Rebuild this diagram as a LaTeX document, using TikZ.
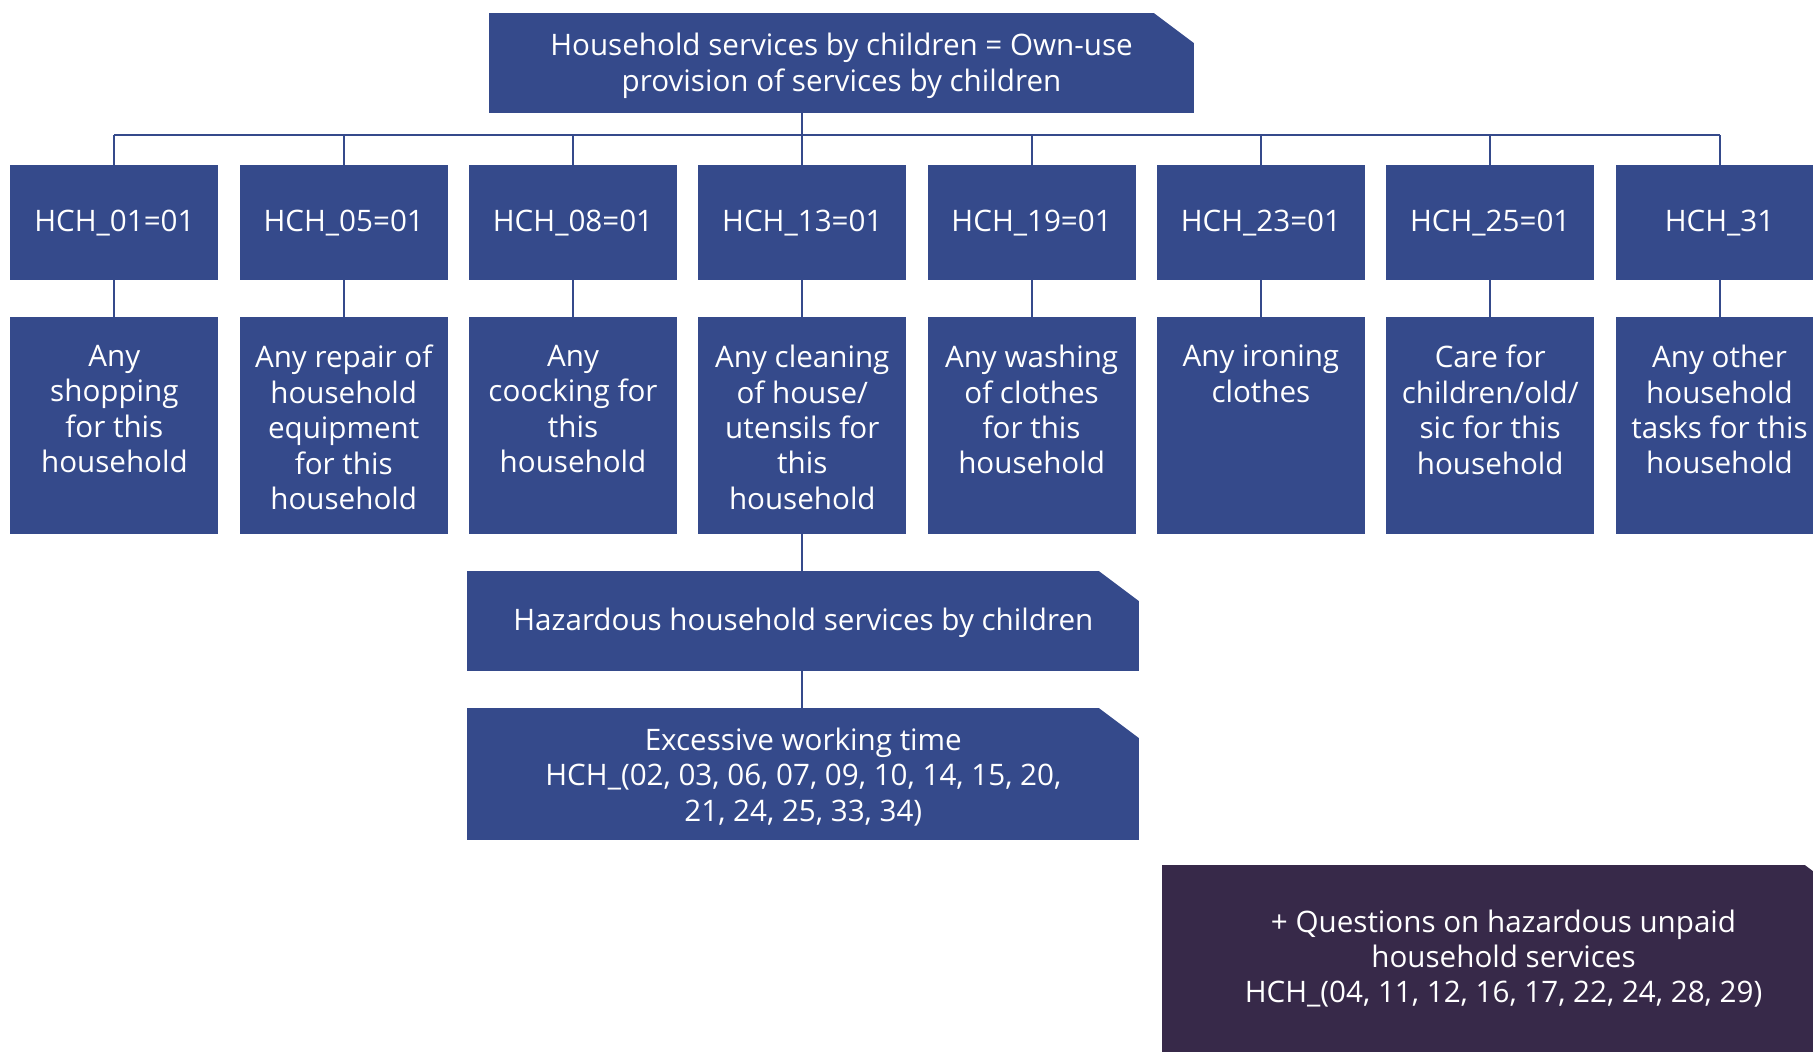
\documentclass[tikz,border=0pt]{standalone}
\usepackage{fontspec}
\setmainfont{Open Sans}
\usepackage{xcolor}
\usepackage{tikz}
\usetikzlibrary{positioning}
\definecolor{cBlue}{RGB}{53,74,139}
\definecolor{cDark}{RGB}{55,41,73}
\tikzset{
  box/.style={fill=cBlue, text=white, inner sep=0pt, outer sep=0pt, align=center,
              font=\fontsize{14.8pt}{17.7pt}\selectfont},
  cutcorner/.style={path picture={\fill[white]
      ([xshift=-22pt,yshift=1.5pt]path picture bounding box.north east)
      -- ([xshift=2pt,yshift=1.5pt]path picture bounding box.north east)
      -- ([xshift=2pt,yshift=-16.5pt]path picture bounding box.north east) -- cycle;}},
  head/.style={box, cutcorner, minimum width=352.5pt, minimum height=50pt},
  code/.style={box, minimum width=104pt, minimum height=57.2pt},
  task/.style={box, minimum width=104pt, minimum height=108.7pt},
  extra/.style={box, cutcorner, fill=cDark, minimum width=341.5pt, minimum height=93.5pt},
  link/.style={draw=cBlue, line width=1pt},
}
\newcommand{\tasktext}[1]{\parbox[t][108.7pt][t]{103pt}{\centering\vspace*{14.2pt}#1}}
\newcommand{\lowered}[2]{\raisebox{-#1}[\height][\depth]{\begin{tabular}{@{}c@{}}#2\end{tabular}}}

\begin{document}
\begin{tikzpicture}[node distance=18.5pt and 10.65pt]
  \path[use as bounding box, clip] (0,0) rectangle (906.5pt,-525.5pt);

  \node[head] (top) at (420.75pt,-31.5pt) {\lowered{1.7pt}{Household services by children = Own-use\\provision of services by children}};
  \coordinate (bus) at (0,-67.65pt);

  \node[code] (c01) at (57.2pt,-111.3pt) {HCH\_01=01};
  \node[code, right=of c01] (c05) {HCH\_05=01};
  \node[code, right=of c05] (c08) {HCH\_08=01};
  \node[code, right=of c08] (c13) {HCH\_13=01};
  \node[code, right=of c13] (c19) {HCH\_19=01};
  \node[code, right=of c19] (c23) {HCH\_23=01};
  \node[code, right=of c23] (c25) {HCH\_25=01};
  \node[code, right=of c25] (c31) {HCH\_31};

  \node[task, below=of c01] (t01) {\tasktext{Any\\shopping\\for this\\household}};
  \node[task, below=of c05] (t05) {\tasktext{Any repair of\\household\\equipment\\for this\\household}};
  \node[task, below=of c08] (t08) {\tasktext{Any\\coocking for\\this\\household}};
  \node[task, below=of c13] (t13) {\tasktext{Any cleaning\\of house/\\utensils for\\this\\household}};
  \node[task, below=of c19] (t19) {\tasktext{Any washing\\of clothes\\for this\\household}};
  \node[task, below=of c23] (t23) {\tasktext{Any ironing\\clothes}};
  \node[task, below=of c25] (t25) {\tasktext{Care for\\children/old/\\sic for this\\household}};
  \node[task, below=of c31] (t31) {\tasktext{Any other\\household\\tasks for this\\household}};

  \node[head, minimum width=336pt, below=of t13, xshift=0.5pt] (haz) {\lowered{1.2pt}{Hazardous household services by children}};
  \node[head, minimum width=336pt, minimum height=65.9pt, below=of haz] (exc) {\lowered{2.2pt}{Excessive working time\\HCH\_(02, 03, 06, 07, 09, 10, 14, 15, 20,\\21, 24, 25, 33, 34)}};

  \node[extra] (qst) at (751.75pt,-479.25pt) {+ Questions on hazardous unpaid\\household services\\HCH\_(04, 11, 12, 16, 17, 22, 24, 28, 29)};

  % tree lines
  \draw[link] (top.south -| c13) -- (c13 |- bus);
  \draw[link] (c01.north |- bus) -- (c31.north |- bus);
  \draw[link] (c01 |- bus) -- (c01); \draw[link] (c05 |- bus) -- (c05); \draw[link] (c08 |- bus) -- (c08); \draw[link] (c13 |- bus) -- (c13);
  \draw[link] (c19 |- bus) -- (c19); \draw[link] (c23 |- bus) -- (c23); \draw[link] (c25 |- bus) -- (c25); \draw[link] (c31 |- bus) -- (c31);
  \draw[link] (c01) -- (t01); \draw[link] (c05) -- (t05); \draw[link] (c08) -- (t08); \draw[link] (c13) -- (t13);
  \draw[link] (c19) -- (t19); \draw[link] (c23) -- (t23); \draw[link] (c25) -- (t25); \draw[link] (c31) -- (t31);
  \draw[link] (t13.south) -- (t13.south |- haz.north);
  \draw[link] (haz.south -| t13) -- (exc.north -| t13);
\end{tikzpicture}
\end{document}
